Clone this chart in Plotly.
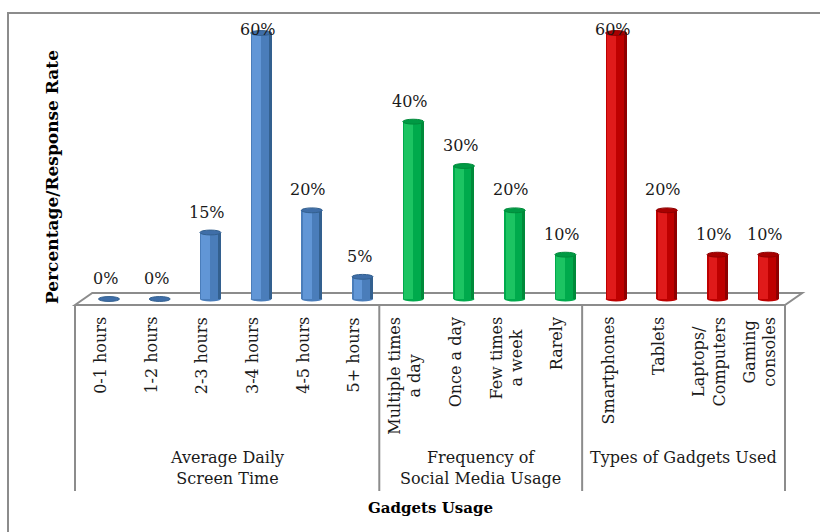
import plotly.graph_objects as go

# ---- data -------------------------------------------------------------
categories = [
    "0-1 hours", "1-2 hours", "2-3 hours", "3-4 hours", "4-5 hours", "5+ hours",
    "Multiple times<br>a day", "Once a day", "Few times<br>a week", "Rarely",
    "Smartphones", "Tablets", "Laptops/<br>Computers", "Gaming<br>consoles",
]
values = [0, 0, 15, 60, 20, 5, 40, 30, 20, 10, 60, 20, 10, 10]
groups = ["Average Daily<br>Screen Time", "Frequency of<br>Social Media Usage", "Types of Gadgets Used"]
group_sizes = [6, 4, 4]

# shading per group: (dark edge, body, highlight, cap)
palettes = [
    ("#33608F", "#4A7DBA", "#6196D6", "#3F6EA8"),
    ("#008A3A", "#00AA4C", "#1CC462", "#009A44"),
    ("#8E0000", "#BE0000", "#E01A1A", "#A80000"),
]

FONT = "DejaVu Serif"
W, H = 820, 532
PL, PR, PT, PB = 75, 35, 33, 233
PW, PH = W - PL - PR, H - PT - PB
N = len(categories)
YMAX = 60
X0, X1 = -0.5, N - 0.5

DEPTH_X = 0.34      # floor depth, category units
DEPTH_Y = 1.35      # floor depth, percent units
BAR_W = 0.414
CAP_H = 1.1


def dx(x):
    return (x - X0) / (X1 - X0)


def dy(v):
    return v / YMAX


def py(pix):
    return (PT + PH - pix) / PH


def px(pix):
    return (pix - PL) / PW


group_of = []
for g, n in enumerate(group_sizes):
    group_of += [g] * n

xpos = [i + DEPTH_X / 2 for i in range(N)]

fig = go.Figure()

# cylinder bodies: layered bars give the rounded shading
layers = [(1.0, 0.0, 0), (0.86, -0.03, 1), (0.42, -0.09, 2)]
for frac, shift, idx in layers:
    for g in range(len(group_sizes)):
        xs = [xpos[i] + shift for i in range(N) if group_of[i] == g]
        ys = [values[i] for i in range(N) if group_of[i] == g]
        fig.add_trace(go.Bar(
            x=xs, y=ys, width=BAR_W * frac,
            marker=dict(color=palettes[g][idx], line=dict(width=0)),
            showlegend=False, hoverinfo="skip",
        ))

shapes = []
grey = "#8C8C8C"

# outer frame
shapes.append(dict(type="rect", xref="paper", yref="paper",
                   x0=px(8), x1=px(W + 4), y0=py(H + 4), y1=py(13),
                   line=dict(color=grey, width=2), fillcolor="rgba(0,0,0,0)", layer="below"))

# floor
floor_path = (f"M {dx(X0)},{dy(-DEPTH_Y)} L {dx(X0 + DEPTH_X)},{dy(DEPTH_Y)} "
              f"L {dx(X1 + DEPTH_X)},{dy(DEPTH_Y)} L {dx(X1)},{dy(-DEPTH_Y)} Z")
shapes.append(dict(type="path", xref="paper", yref="paper", path=floor_path,
                   line=dict(color=grey, width=2), fillcolor="white", layer="below"))

# bar bottoms and tops
for i, v in enumerate(values):
    pal = palettes[group_of[i]]
    xa, xb = dx(xpos[i] - BAR_W / 2), dx(xpos[i] + BAR_W / 2)
    if v > 0:
        shapes.append(dict(type="circle", xref="paper", yref="paper",
                           x0=xa, x1=xb, y0=dy(-CAP_H / 2), y1=dy(CAP_H / 2),
                           fillcolor=pal[1], line=dict(width=0), layer="below"))
    shapes.append(dict(type="circle", xref="paper", yref="paper",
                       x0=xa, x1=xb, y0=dy(v - CAP_H / 2), y1=dy(v + CAP_H / 2),
                       fillcolor=pal[3], line=dict(color=pal[0], width=1), layer="above"))

# category axis dividers
edges = [X0]
for n in group_sizes:
    edges.append(edges[-1] + n)
for e in edges:
    shapes.append(dict(type="line", xref="paper", yref="paper",
                       x0=dx(e), x1=dx(e), y0=dy(-DEPTH_Y), y1=py(491),
                       line=dict(color=grey, width=2), layer="below"))

annotations = []
# value labels
for i, v in enumerate(values):
    annotations.append(dict(x=dx(i + DEPTH_X * 0.3), y=dy(min(v + 4.6, YMAX + 0.7)),
                            xref="paper", yref="paper", text=f"{v}%", showarrow=False,
                            xanchor="center", yanchor="middle",
                            font=dict(family=FONT, size=16, color="#1A1A1A")))
# category labels
for i, c in enumerate(categories):
    annotations.append(dict(x=dx(i), y=py(315), xref="paper", yref="paper",
                            text=c, textangle=-90, align="center",
                            xanchor="center", yanchor="top", showarrow=False,
                            font=dict(family=FONT, size=16, color="#1A1A1A")))
# group labels
for g, name in enumerate(groups):
    center = (edges[g] + edges[g + 1]) / 2
    annotations.append(dict(x=dx(center), y=py(446), xref="paper", yref="paper",
                            text=name, align="center", xanchor="center", yanchor="top",
                            showarrow=False,
                            font=dict(family=FONT, size=16, color="#1A1A1A")))
# axis titles
annotations.append(dict(x=0.5, y=py(508), xref="paper", yref="paper",
                        text="<b>Gadgets Usage</b>", showarrow=False,
                        xanchor="center", yanchor="middle",
                        font=dict(family=FONT, size=15, color="black")))
annotations.append(dict(x=px(52), y=py(177), xref="paper", yref="paper",
                        text="<b>Percentage/Response Rate</b>", textangle=-90,
                        showarrow=False, xanchor="center", yanchor="middle",
                        font=dict(family=FONT, size=17, color="black")))

fig.update_layout(
    width=W, height=H,
    margin=dict(l=PL, r=PR, t=PT, b=PB),
    paper_bgcolor="white", plot_bgcolor="rgba(0,0,0,0)",
    barmode="overlay", bargap=0,
    xaxis=dict(range=[X0, X1], visible=False, fixedrange=True),
    yaxis=dict(range=[0, YMAX], visible=False, fixedrange=True),
    shapes=shapes, annotations=annotations,
    showlegend=False,
)

fig.write_html("out.html")
